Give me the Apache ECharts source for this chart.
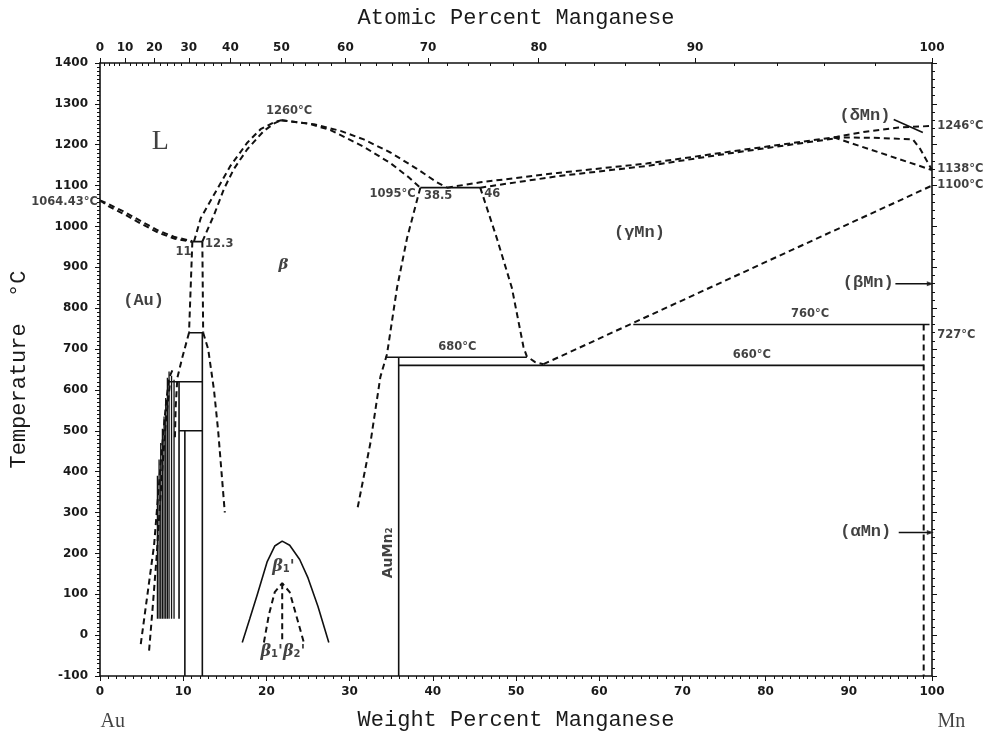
<!DOCTYPE html>
<html>
<head>
<meta charset="utf-8">
<title>Au-Mn</title>
<script src="https://cdn.jsdelivr.net/npm/echarts@6/dist/echarts.min.js"></script>
<style>
  html, body { margin: 0; padding: 0; background: #fff; }
  #chart { width: 993px; height: 736px; }
</style>
</head>
<body>
<div id="chart"></div>
<script>
// ---- axes ----
var AU_MASS = 196.967, MN_MASS = 54.938;
var atomicTicks = [0, 10, 20, 30, 40, 50, 60, 70, 80, 90, 100];
var atomicMinorTicks = [2,4,6,8,12,14,16,18,22,24,26,28,32,34,36,38,42,44,46,48,52,54,56,58,62,64,66,68,72,74,76,78,82,84,86,88,92,94,96,98];

// ---- phase boundaries (wt% Mn, °C) ----
var auLiquidus = [[0,1064],[1,1055],[3,1035],[5,1012],[7,990],[9,974],[11.1,964]];
var auSolidus  = [[0,1064],[1,1050],[3,1029],[5,1006],[7,985],[9,970],[11.1,962]];
var eutecticLow = [[11.1,963],[12.3,963]];
var betaLiqLeft = [[11.3,963],[12.1,1020],[14.1,1092],[15.7,1149],[17.7,1205],[19.3,1238],[21.0,1256],[21.8,1260]];
var betaSolLeft = [[12.3,963],[13.7,1028],[14.9,1092],[16.1,1141],[17.7,1189],[19.7,1234],[21.0,1253],[21.8,1260]];
var betaLiqRight = [[21.8,1260],[25.7,1250],[28.9,1234],[31.7,1213],[34.9,1181],[38.1,1141],[40.5,1108],[41.7,1095]];
var betaSolRight = [[21.8,1260],[25,1252],[27.7,1236],[31.7,1195],[34.9,1155],[37,1122],[38.5,1095]];
var eutectic1095 = [[38.5,1095],[45.7,1095]];
var gammaLiquidus = [[41.7,1095],[45.7,1108],[55,1131],[65.7,1154],[76,1184],[88.2,1218]];
var gammaSolidus  = [[45.7,1095],[55,1123],[65.7,1148],[76,1180],[88.2,1215]];
var deltaLiquidus = [[88.2,1218],[92,1232],[96,1242],[100,1246]];
var deltaUpper = [[88.2,1218],[93,1217],[97.7,1213],[98.6,1189],[100,1138]];
var deltaLower = [[88.2,1218],[100,1138]];
var betaSolvus = [[38.5,1095],[36.9,971],[35.7,850],[34.5,688],[33.7,632],[32.5,470],[30.9,305]];
var gammaLeft = [[45.7,1095],[47.7,971],[49.5,850],[50.9,705],[51.3,682],[52.3,668],[53.3,663]];
var gammaBeta = [[53.3,663],[100,1100]];
var eutectoid680 = [[34.3,680],[51.3,680]];
var line660 = [[35.9,660],[99,660]];
var auMn2 = [[35.9,680],[35.9,-100]];
var line760 = [[64.1,760],[99.7,760]];
var mnSolvus = [[99,760],[99,-100]];

// Au-rich ordering region
var dashLeft740 = [[11.1,963],[10.7,740]];
var dashRight740 = [[12.3,963],[12.4,740]];
var line740 = [[10.7,740],[12.4,740]];
var auSolvus = [[10.7,740],[9.9,680],[9.3,630],[9.1,560],[9.0,480]];
var betaLowSolvus = [[12.4,740],[13.0,700],[13.7,600],[14.2,500],[14.6,400],[15.0,300]];
var line620 = [[8.2,620],[12.3,620]];
var line500 = [[9.5,500],[12.3,500]];
var vert123 = [[12.3,740],[12.3,-100]];
var vert102 = [[10.2,500],[10.2,-100]];
var vert95 = [[9.5,620],[9.5,40]];
var clusterX   = [6.9, 7.1, 7.3, 7.5, 7.7, 7.9, 8.1, 8.3, 8.6, 8.9];
var clusterTop = [390, 430, 470, 505, 535, 580, 630, 645, 635, 625];
var clusterBottom = 40;
var envOuter = [[4.9,-22],[5.7,99],[6.5,220],[7.3,422],[7.9,560],[8.3,630],[8.7,648]];
var envInner = [[5.9,-38],[6.3,60],[6.8,190],[7.4,380],[7.9,520],[8.4,615]];

// low temperature beta1' dome
var beta1Dome = [[17.1,-18],[18,40],[18.9,99],[20.1,180],[21,218],[21.9,230],[22.8,220],[24,185],[25,140],[26.2,70],[27.5,-18]];
var beta2Dome = [[19.7,-18],[20.3,50],[21,105],[21.9,127],[22.8,105],[23.7,40],[24.5,-18]];
var beta2Split = [[21.9,127],[21.9,-18]];

// leader lines to the Mn allotropes
var deltaLeader = [[95.4,1262],[98.9,1230]];
var betaLeader = [[95.6,860],[99.8,860]];
var alphaLeader = [[96.0,251],[99.8,251]];

// ---- annotations: [wt%, °C, text, style] ----
var notes = [
  [7.3, 1206, 'L', 'big'],
  [22.8, 1281, '1260°C', 'num'],
  [-0.2, 1058, '1064.43°C', 'numR'],
  [10.1, 937, '11', 'num'],
  [14.4, 957, '12.3', 'num'],
  [22.1, 903, 'β', 'greek'],
  [5.3, 816, '(Au)', 'phase'],
  [38.0, 1078, '1095°C', 'numR'],
  [40.7, 1073, '38.5', 'num'],
  [47.2, 1078, '46', 'num'],
  [64.9, 983, '(γMn)', 'phase'],
  [43.0, 705, '680°C', 'num'],
  [85.4, 785, '760°C', 'num'],
  [78.4, 685, '660°C', 'num'],
  [34.7, 200, 'AuMn₂', 'rot'],
  [92.0, 1269, '(δMn)', 'phase'],
  [92.4, 862, '(βMn)', 'phase'],
  [92.1, 252, '(αMn)', 'phase'],
  [100.7, 1245, '1246°C', 'numL'],
  [100.7, 1140, '1138°C', 'numL'],
  [100.7, 1101, '1100°C', 'numL'],
  [100.7, 734, '727°C', 'numL'],
  [22.1, 167, "{g|β}{s|1}{g|'}", 'rich'],
  [20.7, -42, "{g|β}{s|1}{g|'}", 'rich'],
  [23.4, -42, "{g|β}{s|2}{g|'}", 'rich'],
  [1.6, -212, 'Au', 'end'],
  [102.4, -212, 'Mn', 'end']
];

function atToWt(a) {
  return 100 * a * MN_MASS / (a * MN_MASS + (100 - a) * AU_MASS);
}

var INK = '#111';
var series = [];
function seg(pts, dashed, width) {
  series.push({
    type: 'line',
    data: pts,
    symbol: 'none',
    silent: true,
    animation: false,
    lineStyle: { color: INK, width: width || (dashed ? 2 : 1.6), type: dashed ? [6, 4] : 'solid' }
  });
}

// dashed boundaries
[auLiquidus, auSolidus, betaLiqLeft, betaSolLeft, betaLiqRight, betaSolRight,
 gammaLiquidus, gammaSolidus, deltaLiquidus, deltaUpper, deltaLower, betaSolvus,
 gammaLeft, gammaBeta, mnSolvus, dashLeft740, dashRight740, auSolvus, betaLowSolvus,
 envOuter, envInner, beta2Dome, beta2Split].forEach(function (p) { seg(p, true); });
// solid lines
[eutecticLow, eutectic1095, eutectoid680, line660, auMn2, line760, line740, line620,
 line500, vert123, vert102, vert95, beta1Dome, deltaLeader, betaLeader, alphaLeader].forEach(function (p) { seg(p, false); });
clusterX.forEach(function (x, i) { seg([[x, clusterBottom], [x, clusterTop[i]]], false, 1.3); });

// arrow heads at the Mn axis
series.push({
  type: 'scatter', silent: true, animation: false,
  symbol: 'triangle', symbolSize: [5, 7], symbolRotate: -90,
  itemStyle: { color: INK },
  data: [betaLeader[1], alphaLeader[1]]
});

var styles = {
  num:   { fontFamily: 'DejaVu Sans', fontWeight: 'bold', fontSize: 11.5, align: 'center' },
  numR:  { fontFamily: 'DejaVu Sans', fontWeight: 'bold', fontSize: 11.5, align: 'right' },
  numL:  { fontFamily: 'DejaVu Sans', fontWeight: 'bold', fontSize: 11.5, align: 'left' },
  phase: { fontFamily: 'Liberation Mono', fontWeight: 'bold', fontSize: 17, align: 'center' },
  big:   { fontFamily: 'Liberation Serif', fontSize: 28, align: 'center' },
  greek: { fontFamily: 'DejaVu Serif', fontStyle: 'italic', fontWeight: 'bold', fontSize: 15, align: 'center' },
  rot:   { fontFamily: 'DejaVu Sans', fontWeight: 'bold', fontSize: 14, align: 'center', rotate: 90 },
  end:   { fontFamily: 'Liberation Serif', fontSize: 20, align: 'center' },
  rich:  {
    align: 'center',
    rich: {
      g: { fontFamily: 'DejaVu Serif', fontStyle: 'italic', fontWeight: 'bold', fontSize: 16, color: INK },
      s: { fontFamily: 'DejaVu Sans', fontWeight: 'bold', fontSize: 10, color: INK, verticalAlign: 'bottom', padding: [6, 0, 0, 0] }
    }
  }
};

series.push({
  type: 'scatter',
  silent: true,
  animation: false,
  clip: false,
  symbolSize: 1,
  itemStyle: { color: 'rgba(0,0,0,0)' },
  data: notes.map(function (n) {
    var lab = Object.assign({ show: true, position: [0, 0], verticalAlign: 'middle', color: INK, formatter: n[2] }, styles[n[3]]);
    return { value: [n[0], n[1]], label: lab };
  })
});

var atPositions = atomicTicks.map(atToWt);
var atMinorPositions = atomicMinorTicks.map(atToWt);

var tickFont = { fontFamily: 'DejaVu Sans', fontWeight: 'bold', fontSize: 12, color: '#1a1a1a' };
var nameFont = { fontFamily: 'Liberation Mono', fontSize: 22, color: '#1a1a1a' };
var axisLine = { onZero: false, lineStyle: { color: INK, width: 1.6 } };
function plain(v) { return String(v); }

var option = {
  backgroundColor: '#fff',
  animation: false,
  grid: { left: 99, right: 61, top: 63, bottom: 54 },
  xAxis: [
    {
      type: 'value', position: 'bottom', min: 0, max: 100, interval: 10,
      name: 'Weight Percent Manganese', nameLocation: 'middle', nameGap: 33, nameTextStyle: nameFont,
      axisLine: axisLine,
      axisTick: { length: 5, lineStyle: { color: INK } },
      minorTick: { show: true, splitNumber: 10, length: 3, lineStyle: { color: INK } },
      axisLabel: Object.assign({ margin: 10, formatter: plain }, tickFont),
      splitLine: { show: false }
    },
    {
      type: 'value', position: 'top', min: 0, max: 100,
      name: 'Atomic Percent Manganese', nameLocation: 'middle', nameGap: 34, nameTextStyle: nameFont,
      axisLine: axisLine,
      axisTick: { customValues: atPositions, length: 5, lineStyle: { color: INK } },
      axisLabel: Object.assign({
        margin: 9,
        customValues: atPositions,
        formatter: function (v) {
          var best = 0;
          atPositions.forEach(function (p, i) { if (Math.abs(p - v) < Math.abs(atPositions[best] - v)) best = i; });
          return String(atomicTicks[best]);
        }
      }, tickFont),
      splitLine: { show: false }
    },
    {
      type: 'value', position: 'top', min: 0, max: 100,
      axisLine: { show: false, onZero: false },
      axisTick: { customValues: atMinorPositions, inside: true, length: 3, lineStyle: { color: INK } },
      axisLabel: { show: false, customValues: atMinorPositions },
      splitLine: { show: false }
    }
  ],
  yAxis: [
    {
      type: 'value', position: 'left', min: -100, max: 1400, interval: 100,
      name: 'Temperature  °C', nameLocation: 'middle', nameGap: 70, nameTextStyle: nameFont,
      axisLine: axisLine,
      axisTick: { length: 5, lineStyle: { color: INK } },
      minorTick: { show: true, splitNumber: 10, length: 3, lineStyle: { color: INK } },
      axisLabel: Object.assign({ margin: 12, formatter: plain }, tickFont),
      splitLine: { show: false }
    },
    {
      type: 'value', position: 'right', min: -100, max: 1400, interval: 100,
      axisLine: axisLine,
      axisTick: { length: 5, lineStyle: { color: INK } },
      minorTick: { show: true, splitNumber: 5, length: 3, lineStyle: { color: INK } },
      axisLabel: { show: false },
      splitLine: { show: false }
    }
  ],
  series: series
};

var chart = echarts.init(document.getElementById('chart'));
chart.setOption(option);
</script>
</body>
</html>
